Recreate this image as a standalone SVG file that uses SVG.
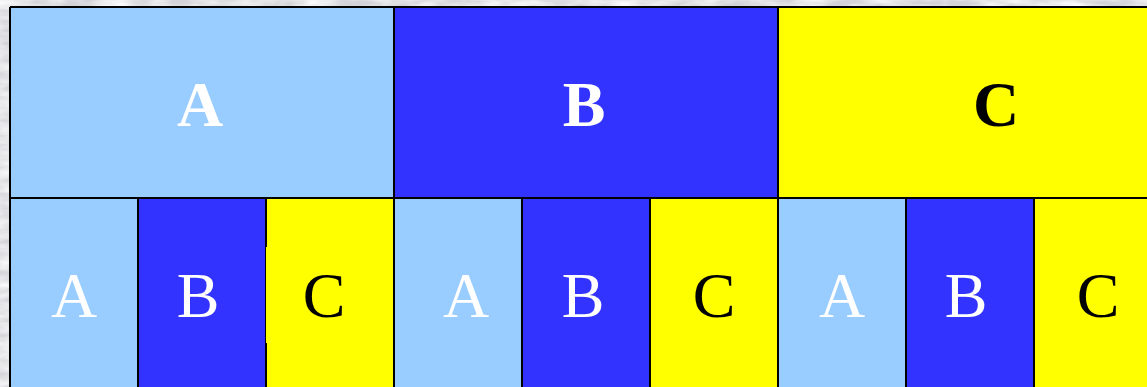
<svg xmlns="http://www.w3.org/2000/svg" width="1147" height="387" viewBox="0 0 1147 387">
  <defs>
    <filter id="marble" x="0" y="0" width="100%" height="100%">
      <feTurbulence type="fractalNoise" baseFrequency="0.03 0.1" numOctaves="3" seed="4" result="n"/>
      <feColorMatrix in="n" type="matrix" values="0 0 0 0 0.97  0 0 0 0 0.97  0 0 0 0 0.98  1.8 0 0 0 -0.5" result="c"/>
      <feComposite in="c" in2="SourceGraphic" operator="over"/>
    </filter>
    <style>
      .lb { fill: #99ccff; }
      .bl { fill: #3333ff; }
      .ye { fill: #ffff00; }
      .ln { stroke: #000; stroke-width: 2; fill: none; }
      .big { font-family: "Liberation Serif", "Times New Roman", serif; font-weight: bold; font-size: 64px; text-anchor: middle; }
      .sm { font-family: "Liberation Serif", "Times New Roman", serif; font-size: 64px; text-anchor: middle; }
      .w { fill: #ffffff; }
      .k { fill: #000000; }
    </style>
  </defs>
  <rect x="0" y="0" width="1147" height="387" fill="#d4d4d8" filter="url(#marble)"/>

  <g id="top-A"><rect class="lb" x="10" y="7" width="384" height="191"/><text class="big w" x="200" y="126">A</text></g>
  <g id="top-B"><rect class="bl" x="394" y="7" width="384" height="191"/><text class="big w" x="584" y="126">B</text></g>
  <g id="top-C"><rect class="ye" x="778" y="7" width="384" height="191"/><text class="big k" x="996" y="126">C</text></g>

  <g id="b1-A"><rect class="lb" x="10" y="198" width="128" height="200"/><text class="sm w" x="74" y="317">A</text></g>
  <g id="b1-B"><rect class="bl" x="138" y="198" width="128" height="200"/><text class="sm w" x="198" y="317">B</text></g>
  <g id="b1-C"><rect class="ye" x="266" y="198" width="128" height="200"/><text class="sm k" x="324" y="317">C</text></g>
  <g id="b2-A"><rect class="lb" x="394" y="198" width="128" height="200"/><text class="sm w" x="466" y="317">A</text></g>
  <g id="b2-B"><rect class="bl" x="522" y="198" width="128" height="200"/><text class="sm w" x="583" y="317">B</text></g>
  <g id="b2-C"><rect class="ye" x="650" y="198" width="128" height="200"/><text class="sm k" x="714" y="317">C</text></g>
  <g id="b3-A"><rect class="lb" x="778" y="198" width="128" height="200"/><text class="sm w" x="842" y="317">A</text></g>
  <g id="b3-B"><rect class="bl" x="906" y="198" width="128" height="200"/><text class="sm w" x="966" y="317">B</text></g>
  <g id="b3-C"><rect class="ye" x="1034" y="198" width="128" height="200"/><text class="sm k" x="1098" y="317">C</text></g>

  <g id="grid">
    <path class="ln" d="M10 7 H1147 M10 7 V387 M10 198 H1147 M394 7 V387 M778 7 V387 M138 198 V387 M266 198 V387 M522 198 V387 M650 198 V387 M906 198 V387 M1034 198 V387"/>
    <rect class="ye" x="266" y="247" width="2" height="96"/>
  </g>
</svg>
